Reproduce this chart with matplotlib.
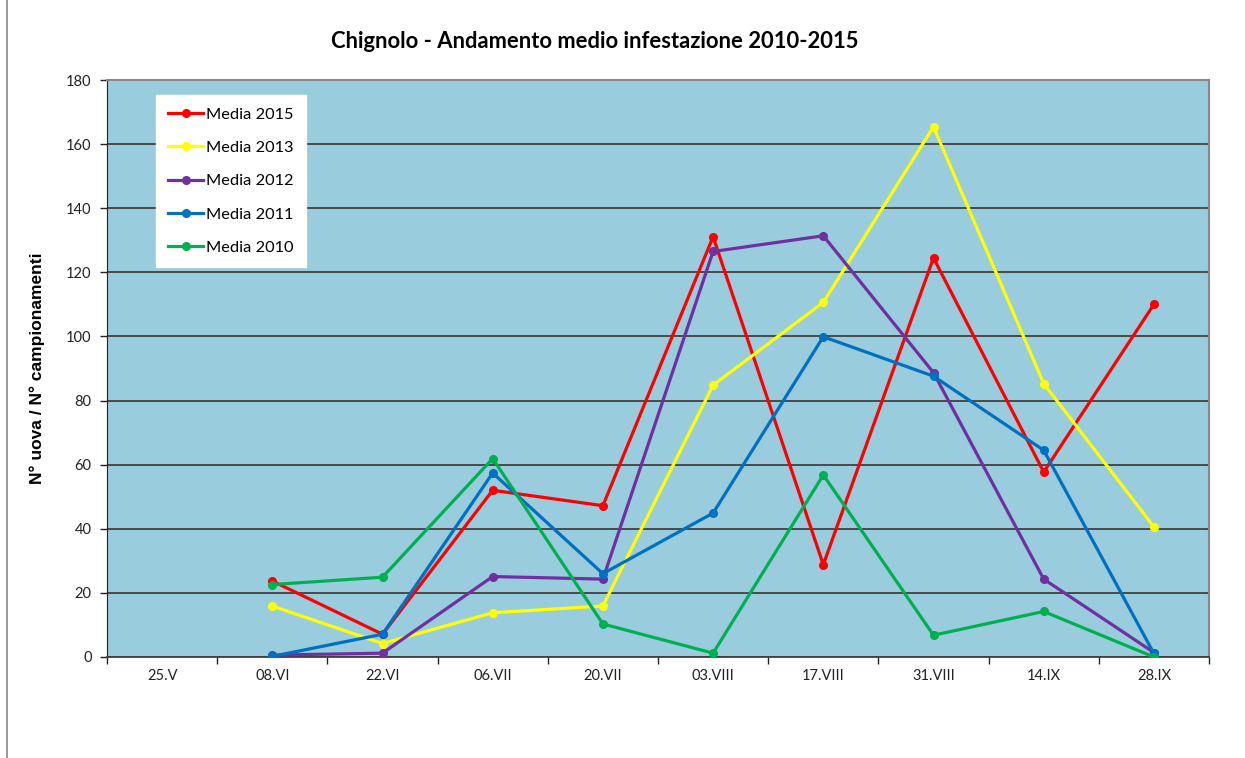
import numpy as np
import matplotlib.pyplot as plt
from matplotlib.lines import Line2D

# ---- data ----
dates = ["25.V", "08.VI", "22.VI", "06.VII", "20.VII", "03.VIII", "17.VIII", "31.VIII", "14.IX", "28.IX"]
media_2015 = [np.nan, 23.7, 7.1, 52.0, 47.2, 131.1, 28.8, 124.5, 57.7, 110.0]
media_2013 = [np.nan, 15.9, 4.2, 13.8, 15.9, 84.8, 110.6, 165.4, 85.3, 40.6]
media_2012 = [np.nan, 0.6, 1.2, 25.1, 24.3, 126.5, 131.4, 88.7, 24.3, 1.4]
media_2011 = [np.nan, 0.2, 7.1, 57.4, 26.0, 44.9, 99.9, 87.6, 64.5, 1.1]
media_2010 = [np.nan, 22.6, 24.9, 61.9, 10.3, 1.2, 56.8, 6.8, 14.2, 0.0]

series = [
    ("Media 2015", media_2015, "#FF0000"),
    ("Media 2013", media_2013, "#FFFF00"),
    ("Media 2012", media_2012, "#7030A0"),
    ("Media 2011", media_2011, "#0070C0"),
    ("Media 2010", media_2010, "#00B050"),
]

fig = plt.figure(figsize=(12.45, 7.58), dpi=100)
ax = fig.add_axes([107 / 1245, 1 - 657 / 758, (1209 - 107) / 1245, (657 - 80) / 758])
ax.set_facecolor("#99CCDD")

x = np.arange(len(dates))
for label, vals, col in series:
    ax.plot(x, vals, color=col, lw=2.3, marker="o", ms=5.5, label=label,
            solid_joinstyle="round", zorder=3)

ax.set_xlim(-0.5, len(dates) - 0.5)
ax.set_ylim(0, 180)
ax.set_yticks(range(0, 181, 20))
ax.set_xticks(x)
ax.set_xticklabels(dates, fontsize=10.5, family="Lato", color="#222222")
ax.set_xticks(np.arange(-0.5, len(dates)), minor=True)
ax.tick_params(axis="x", which="major", length=0, pad=9)
ax.tick_params(axis="x", which="minor", length=5, color="#222222", width=1, direction="out")
ax.tick_params(axis="y", length=5, color="#222222", width=1, labelsize=10.5, pad=6)
for t in ax.get_yticklabels():
    t.set_family("Lato")
    t.set_color("#222222")

ax.grid(axis="y", color="#404040", lw=1.3, zorder=1)
ax.set_axisbelow(True)
for side in ["top", "right"]:
    ax.spines[side].set_color("#888888")
    ax.spines[side].set_linewidth(1.5)
ax.spines["left"].set_color("#222222")
ax.spines["bottom"].set_color("#404040")
ax.spines["bottom"].set_linewidth(1.3)

ax.set_ylabel("N° uova / N° campionamenti", fontsize=12.5, fontweight="bold",
              family="Liberation Sans", labelpad=15)

fig.text(595 / 1245, 1 - 42 / 758, "Chignolo - Andamento medio infestazione 2010-2015",
         ha="center", va="center", fontsize=15.8, fontweight="bold", family="Lato")

leg = ax.legend(loc="upper left", bbox_to_anchor=((156 - 107) / 1102, 1 - (95 - 80) / 577),
                frameon=True, fancybox=False, framealpha=1, edgecolor="white",
                prop={"family": "Lato", "size": 11.8}, handlelength=2.1,
                labelspacing=1.15, borderpad=0.75, handletextpad=0.2, borderaxespad=0)

# outer chart frame (left edge visible)
fig.add_artist(Line2D([7 / 1245, 7 / 1245], [0, 1], color="#888888", lw=1.2))

fig.savefig("out.png", dpi=100)
